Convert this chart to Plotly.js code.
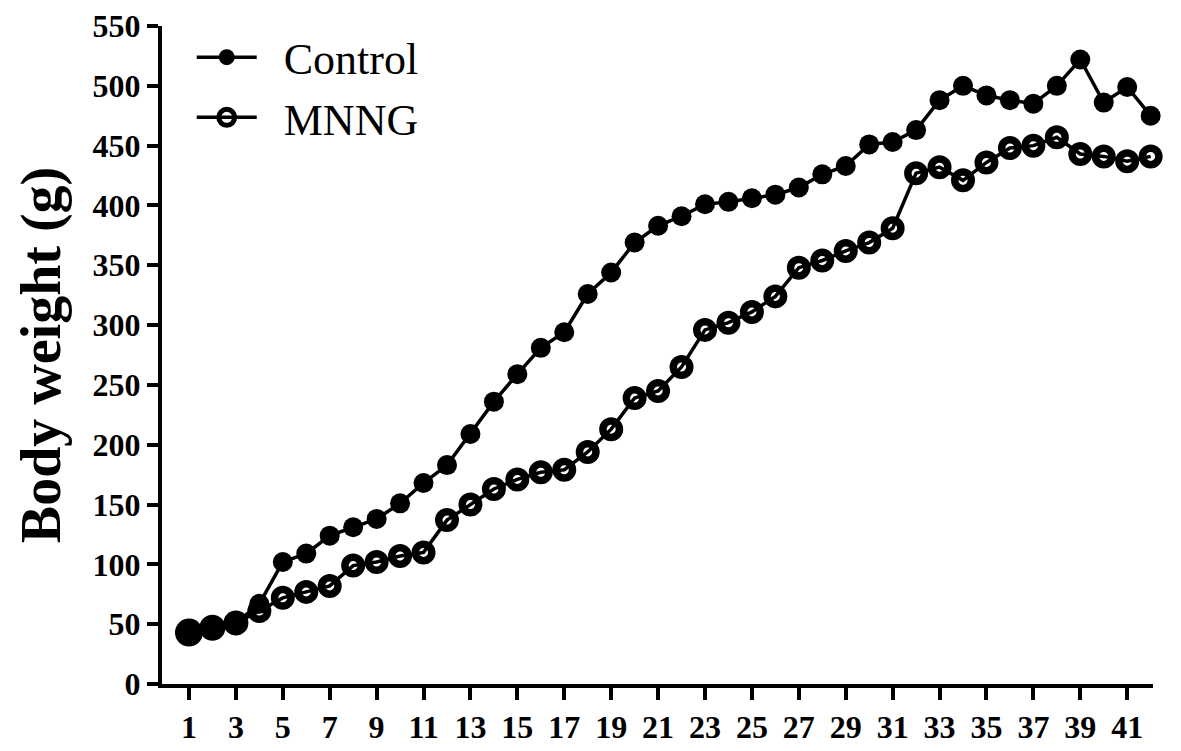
<!DOCTYPE html>
<html>
<head>
<meta charset="utf-8">
<script src="https://cdn.plot.ly/plotly-3.0.1.min.js"></script>
<style>html,body{margin:0;padding:0;background:#fff;}#chart{width:1181px;height:751px;}</style>
</head>
<body>
<div id="chart"></div>
<script>
const weeks = Array.from({length: 42}, (_, i) => i + 1);
const controlWeight = [43, 47, 51, 67, 102, 109, 124, 131, 138, 151, 168, 183, 209, 236, 259, 281, 294, 326, 344, 369, 383, 391, 401, 403, 406, 409, 415, 426, 433, 451, 453, 463, 488, 500, 492, 488, 485, 500, 522, 486, 499, 475];
const mnngWeight = [43, 47, 51, 61, 72, 77, 82, 99, 102, 107, 110, 137, 150, 163, 171, 177, 179, 194, 213, 239, 245, 265, 296, 302, 311, 324, 348, 354, 362, 369, 381, 427, 432, 421, 436, 448, 450, 457, 443, 441, 437, 441];
const xTickVals = [1, 3, 5, 7, 9, 11, 13, 15, 17, 19, 21, 23, 25, 27, 29, 31, 33, 35, 37, 39, 41];
const yTickVals = [0, 50, 100, 150, 200, 250, 300, 350, 400, 450, 500, 550];

const firstSizes = [28, 26, 25];
const controlSizes = controlWeight.map((_, i) => i < firstSizes.length ? firstSizes[i] : 20);

const serif = 'Liberation Serif, Times New Roman, serif';
const pad = '\u00a0\u00a0';

const traces = [
  {
    x: weeks, y: controlWeight, name: pad + 'Control', type: 'scatter', mode: 'lines+markers',
    line: {color: '#000', width: 3.5},
    marker: {symbol: 'circle', color: '#000', size: controlSizes, opacity: 1, line: {width: 0}},
    cliponaxis: false
  },
  {
    x: weeks, y: mnngWeight, name: pad + 'MNNG', type: 'scatter', mode: 'lines+markers',
    line: {color: '#000', width: 3.5},
    marker: {symbol: 'circle-open', color: '#000', size: 16.5, opacity: 1, line: {color: '#000', width: 7.5}},
    cliponaxis: false
  }
];

const layout = {
  width: 1181, height: 751,
  margin: {l: 162, r: 28, t: 26, b: 67},
  paper_bgcolor: '#fff', plot_bgcolor: '#fff',
  showlegend: true,
  legend: {
    x: 0.03, y: 1.006, xanchor: 'left', yanchor: 'top',
    font: {family: serif, size: 44, color: '#000'},
    bgcolor: 'rgba(0,0,0,0)', itemwidth: 60, tracegroupgap: 0
  },
  xaxis: {
    range: [-0.15, 42.1], showgrid: false, zeroline: false,
    showline: true, linecolor: '#000', linewidth: 4,
    ticks: 'outside', ticklen: 12, tickwidth: 4, tickcolor: '#000',
    tickmode: 'array', tickvals: xTickVals, ticktext: xTickVals.map(String),
    tickfont: {family: serif, size: 32, color: '#000', weight: 'bold'}
  },
  yaxis: {
    range: [0, 550], showgrid: false, zeroline: false,
    showline: true, linecolor: '#000', linewidth: 4,
    ticks: 'outside', ticklen: 11, tickwidth: 4, tickcolor: '#000',
    tickmode: 'array', tickvals: yTickVals, ticktext: yTickVals.map(String),
    tickfont: {family: serif, size: 32, color: '#000', weight: 'bold'},
    title: {text: 'Body weight (g)', font: {family: serif, size: 56, color: '#000', weight: 'bold'}, standoff: 15}
  }
};

Plotly.newPlot('chart', traces, layout, {displayModeBar: false, staticPlot: true});
</script>
</body>
</html>
